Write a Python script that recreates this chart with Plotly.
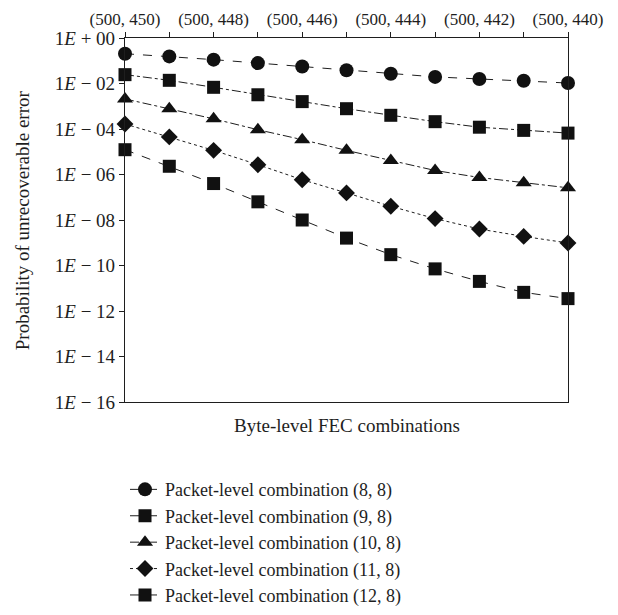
import plotly.graph_objects as go

# Byte-level FEC combinations (n, k) along the horizontal axis
categories = ["(500, 450)", "(500, 449)", "(500, 448)", "(500, 447)", "(500, 446)",
              "(500, 445)", "(500, 444)", "(500, 443)", "(500, 442)", "(500, 441)",
              "(500, 440)"]
top_labels = ["(500, 450)", "", "(500, 448)", "", "(500, 446)", "",
              "(500, 444)", "", "(500, 442)", "", "(500, 440)"]

# Probability of unrecoverable error per packet-level combination
p_8_8 = [2.04e-1, 1.55e-1, 1.12e-1, 7.9e-2, 5.6e-2, 3.8e-2, 2.7e-2, 1.95e-2, 1.58e-2, 1.32e-2, 1.05e-2]
p_9_8 = [2.45e-2, 1.38e-2, 6.8e-3, 3.2e-3, 1.6e-3, 7.8e-4, 4.0e-4, 2.1e-4, 1.2e-4, 8.7e-5, 6.6e-5]
p_10_8 = [2.1e-3, 7.8e-4, 2.8e-4, 9.3e-5, 3.4e-5, 1.15e-5, 4.1e-6, 1.5e-6, 7.4e-7, 4.3e-7, 2.6e-7]
p_11_8 = [1.66e-4, 4.5e-5, 1.15e-5, 2.7e-6, 5.9e-7, 1.55e-7, 4.0e-8, 1.15e-8, 4.0e-9, 1.9e-9, 9.8e-10]
p_12_8 = [1.23e-5, 2.3e-6, 4.0e-7, 6.3e-8, 1.0e-8, 1.6e-9, 3.0e-10, 7.1e-11, 2.0e-11, 6.6e-12, 3.5e-12]

series_names = ["Packet-level combination (8, 8)", "Packet-level combination (9, 8)",
                "Packet-level combination (10, 8)", "Packet-level combination (11, 8)",
                "Packet-level combination (12, 8)"]

# Y tick labels in 1E − xx notation
y_exponents = [0, -2, -4, -6, -8, -10, -12, -14, -16]
y_ticktext = ["1<i>E</i> + 00"] + ["1<i>E</i> \u2212 %02d" % (-e) for e in y_exponents[1:]]

FONT = "Liberation Serif"
INK = "#1e1e1e"

styles = [
    dict(symbol="circle", size=14, dash="dash"),
    dict(symbol="square", size=13, dash="dashdot"),
    dict(symbol="triangle-up", size=14, dash="dashdot"),
    dict(symbol="diamond", size=13, dash="dot"),
    dict(symbol="square", size=13, dash="dash"),
]

fig = go.Figure()
for name, vals, st in zip(series_names, [p_8_8, p_9_8, p_10_8, p_11_8, p_12_8], styles):
    fig.add_trace(go.Scatter(
        x=categories, y=vals, name=name, mode="lines+markers",
        line=dict(color=INK, width=1, dash=st["dash"]),
        marker=dict(symbol=st["symbol"], size=st["size"], color="#111111",
                    line=dict(width=0)),
        cliponaxis=False,
    ))

fig.update_layout(
    width=618, height=615,
    margin=dict(l=125, r=50, t=38, b=213, autoexpand=False),
    paper_bgcolor="white", plot_bgcolor="white",
    font=dict(family=FONT, color=INK, size=18),
    showlegend=True,
    legend=dict(
        x=0.0, y=-0.19, xanchor="left", yanchor="top",
        font=dict(family=FONT, size=18, color=INK),
        itemwidth=30, tracegroupgap=0, bgcolor="rgba(0,0,0,0)",
    ),
    xaxis=dict(
        type="category", side="top", range=[0, 10],
        tickmode="array", tickvals=categories, ticktext=top_labels,
        ticks="outside", ticklen=5, tickwidth=1, tickcolor=INK,
        showline=True, linecolor=INK, linewidth=1.2, mirror=True,
        showgrid=False, zeroline=False,
        tickfont=dict(family=FONT, size=17, color=INK),
    ),
    yaxis=dict(
        type="log", range=[-16, 0],
        tickmode="array", tickvals=[10.0 ** e for e in y_exponents], ticktext=y_ticktext,
        ticks="outside", ticklen=5, tickwidth=1, tickcolor=INK,
        showline=True, linecolor=INK, linewidth=1.2, mirror=True,
        showgrid=False, zeroline=False,
        tickfont=dict(family=FONT, size=19, color=INK),
    ),
)

# Vertical axis title
fig.add_annotation(
    text="Probability of unrecoverable error", xref="paper", yref="paper",
    x=-0.232, y=0.5, xanchor="center", yanchor="middle", textangle=-90,
    showarrow=False, font=dict(family=FONT, size=19, color=INK),
)

# Horizontal axis title below the plot frame
fig.add_annotation(
    text="Byte-level FEC combinations", xref="paper", yref="paper",
    x=0.5, y=-0.03, xanchor="center", yanchor="top", showarrow=False,
    font=dict(family=FONT, size=19, color=INK),
)

fig.write_html("out.html")
